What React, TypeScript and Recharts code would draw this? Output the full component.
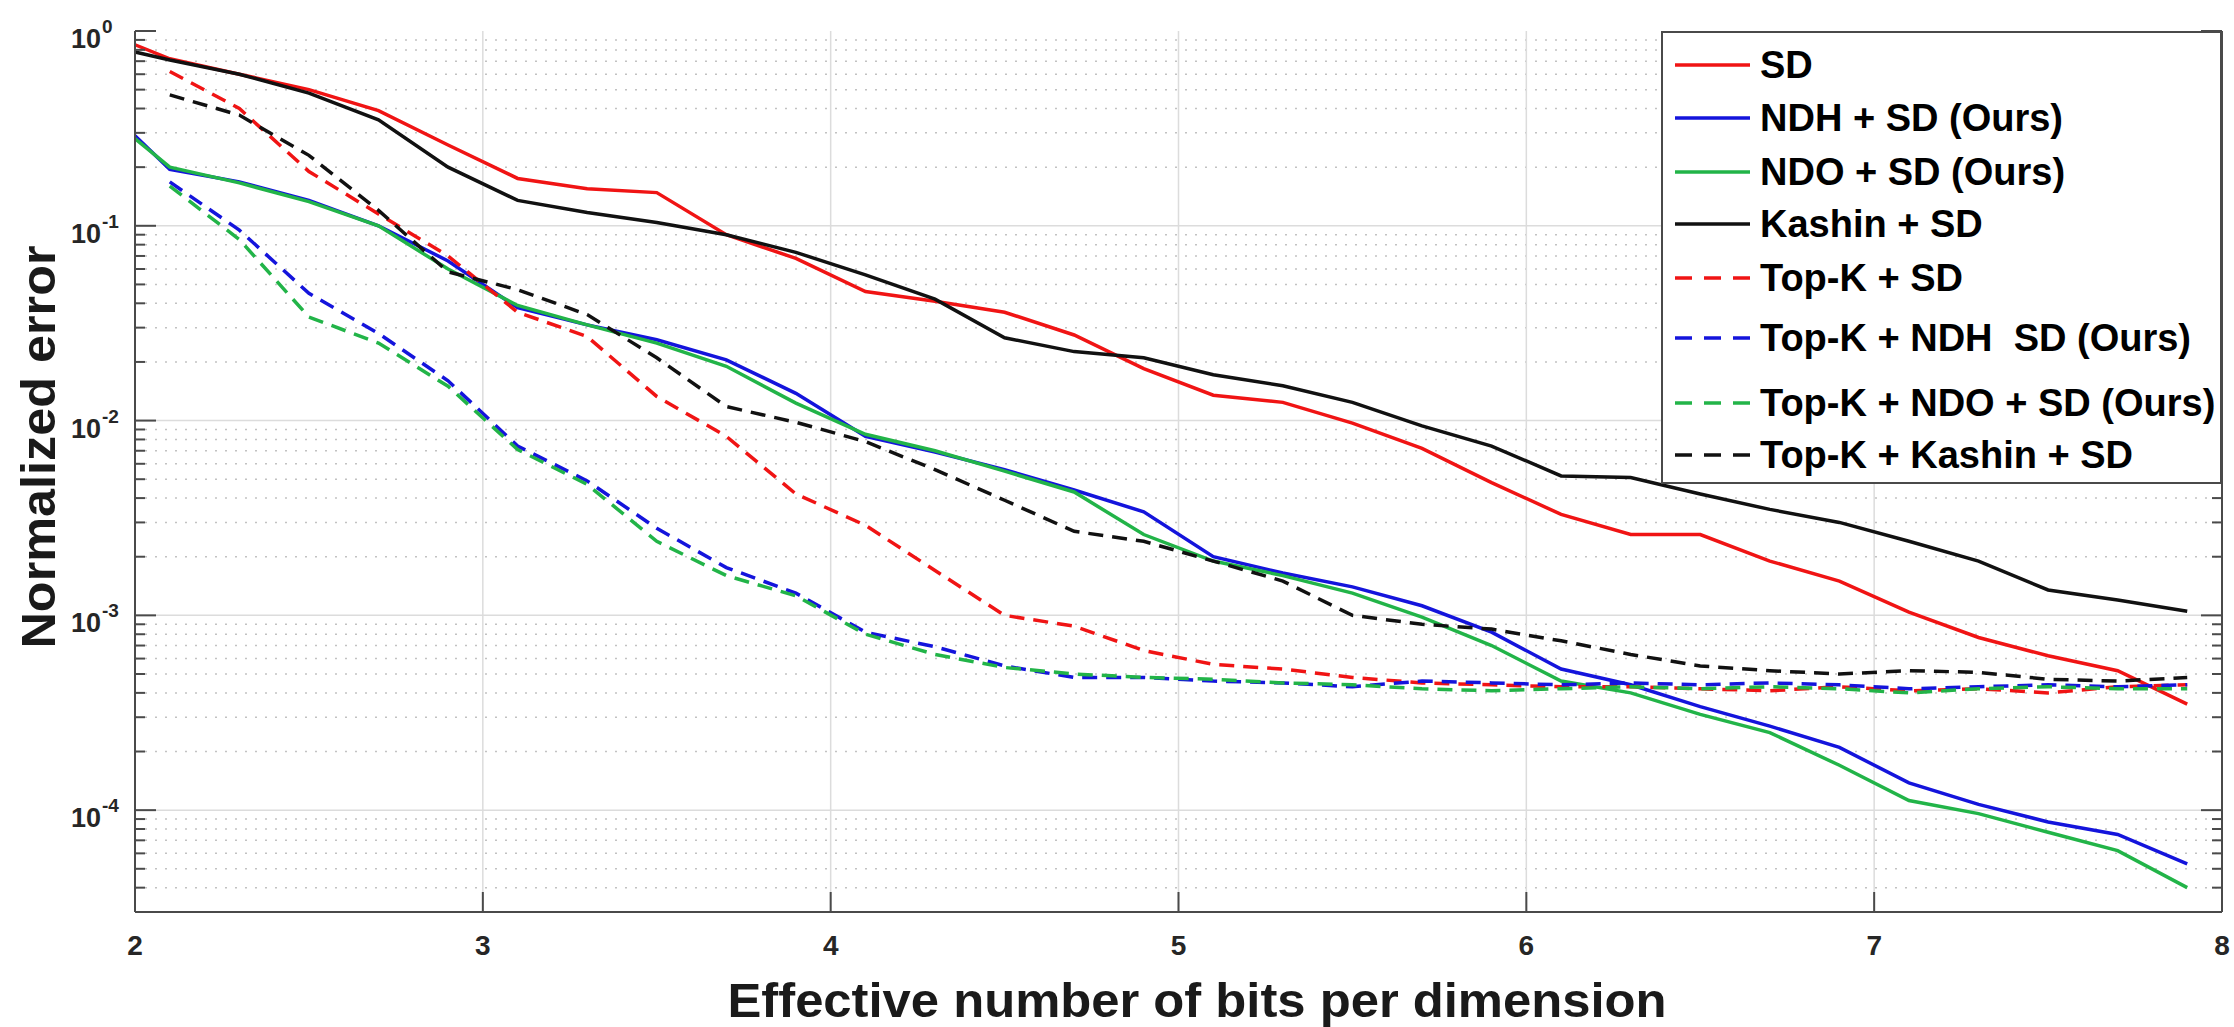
import React from "react";
import { LineChart, Line, XAxis, YAxis, ReferenceLine, Legend } from "recharts";

// effective bits per dimension (x positions of the samples)
const bits = [
  2.0, 2.1, 2.3, 2.5, 2.7, 2.9, 3.1, 3.3, 3.5, 3.7, 3.9, 4.1, 4.3, 4.5, 4.7, 4.9,
  5.1, 5.3, 5.5, 5.7, 5.9, 6.1, 6.3, 6.5, 6.7, 6.9, 7.1, 7.3, 7.5, 7.7, 7.9,
];

const sd = [
  0.85, 0.72, 0.6, 0.5, 0.39, 0.26, 0.175, 0.155, 0.148, 0.09, 0.068, 0.046, 0.041, 0.036, 0.0275, 0.0185,
  0.0135, 0.0124, 0.0097, 0.0072, 0.0048, 0.0033, 0.0026, 0.0026, 0.0019, 0.0015, 0.00104, 0.00077, 0.00062, 0.00052, 0.00035,
];

const ndhSd = [
  0.29, 0.195, 0.168, 0.135, 0.1, 0.066, 0.038, 0.031, 0.026, 0.0205, 0.0138, 0.0083, 0.0069, 0.0056, 0.0044, 0.0034,
  0.002, 0.00165, 0.0014, 0.00112, 0.00082, 0.00053, 0.00044, 0.00034, 0.00027, 0.00021, 0.000138, 0.000107, 0.000087, 0.000075, 0.000053,
];

const ndoSd = [
  0.28, 0.2, 0.166, 0.133, 0.1, 0.06, 0.039, 0.031, 0.025, 0.019, 0.0123, 0.0085, 0.007, 0.0055, 0.0043, 0.0026,
  0.0019, 0.0016, 0.0013, 0.00098, 0.0007, 0.00046, 0.0004, 0.00031, 0.00025, 0.00017, 0.000112, 0.000096, 0.000077, 0.000062, 0.00004,
];

const kashinSd = [
  0.78, 0.71, 0.6, 0.48, 0.35, 0.2, 0.135, 0.117, 0.104, 0.09, 0.073, 0.056, 0.042, 0.0266, 0.0226, 0.021,
  0.0172, 0.0151, 0.0124, 0.0094, 0.0074, 0.0052, 0.0051, 0.0042, 0.0035, 0.003, 0.0024, 0.0019, 0.00135, 0.0012, 0.00105,
];

const topkSd = [
  null, 0.62, 0.4, 0.19, 0.115, 0.07, 0.036, 0.027, 0.0133, 0.0083, 0.0042, 0.0029, 0.0017, 0.001, 0.00088, 0.00066,
  0.00056, 0.00053, 0.00048, 0.00045, 0.00044, 0.00043, 0.00043, 0.00042, 0.00041, 0.00043, 0.00041, 0.00042, 0.0004, 0.00043, 0.00044,
];

const topkNdhSd = [
  null, 0.168, 0.095, 0.045, 0.028, 0.016, 0.0074, 0.0049, 0.0028, 0.00176, 0.0013, 0.00082, 0.00069, 0.00055, 0.00048, 0.00048,
  0.00046, 0.00045, 0.00043, 0.00046, 0.00045, 0.00044, 0.00045, 0.00044, 0.00045, 0.00044, 0.00042, 0.00043, 0.00044, 0.00043, 0.00044,
];

const topkNdoSd = [
  null, 0.16, 0.085, 0.034, 0.025, 0.015, 0.0071, 0.0047, 0.0024, 0.0016, 0.00126, 0.0008, 0.00063, 0.00054, 0.0005, 0.00048,
  0.00047, 0.00045, 0.00044, 0.00042, 0.00041, 0.00042, 0.00043, 0.00042, 0.00043, 0.00042, 0.0004, 0.00042, 0.00043, 0.00042, 0.00042,
];

const topkKashinSd = [
  null, 0.47, 0.37, 0.23, 0.12, 0.058, 0.047, 0.035, 0.021, 0.0118, 0.0098, 0.0078, 0.0056, 0.0039, 0.0027, 0.0024,
  0.0019, 0.0015, 0.001, 0.0009, 0.00085, 0.00074, 0.00063, 0.00055, 0.00052, 0.0005, 0.00052, 0.00051, 0.00047, 0.00046, 0.00048,
];

const xTicks = [2, 3, 4, 5, 6, 7, 8];
const yMajor = [1e-4, 1e-3, 1e-2, 1e-1, 1];
const yMinor = [
  4e-5, 5e-5, 6e-5, 7e-5, 8e-5, 9e-5,
  2e-4, 3e-4, 4e-4, 5e-4, 6e-4, 7e-4, 8e-4, 9e-4,
  2e-3, 3e-3, 4e-3, 5e-3, 6e-3, 7e-3, 8e-3, 9e-3,
  2e-2, 3e-2, 4e-2, 5e-2, 6e-2, 7e-2, 8e-2, 9e-2,
  0.2, 0.3, 0.4, 0.5, 0.6, 0.7, 0.8, 0.9,
];
const yTicks = [...yMajor, ...yMinor].sort((a, b) => a - b);

const RED = "#f01414";
const BLUE = "#1414dc";
const GREEN = "#22b448";
const BLACK = "#111111";

const series = [
  { key: "sd", name: "SD", color: RED, dashed: false, values: sd },
  { key: "ndhSd", name: "NDH + SD (Ours)", color: BLUE, dashed: false, values: ndhSd },
  { key: "ndoSd", name: "NDO + SD (Ours)", color: GREEN, dashed: false, values: ndoSd },
  { key: "kashinSd", name: "Kashin + SD", color: BLACK, dashed: false, values: kashinSd },
  { key: "topkSd", name: "Top-K + SD", color: RED, dashed: true, values: topkSd },
  { key: "topkNdhSd", name: "Top-K + NDH  SD (Ours)", color: BLUE, dashed: true, values: topkNdhSd },
  { key: "topkNdoSd", name: "Top-K + NDO + SD (Ours)", color: GREEN, dashed: true, values: topkNdoSd },
  { key: "topkKashinSd", name: "Top-K + Kashin + SD", color: BLACK, dashed: true, values: topkKashinSd },
];

const data = bits.map((x, i) => {
  const row: Record<string, number | null> = { x };
  series.forEach((s) => {
    row[s.key] = s.values[i];
  });
  return row;
});

const FONT = "'Liberation Sans', Arial, Helvetica, sans-serif";
const AXIS = "#4a4a4a";
const TEXT = "#262626";

const isMajor = (v: number) => Math.abs(Math.log10(v) - Math.round(Math.log10(v))) < 1e-6;

const BottomTick = (props: any) => {
  const { x, y, payload } = props;
  return (
    <g>
      <line x1={x} y1={y} x2={x} y2={y - 20} stroke={AXIS} strokeWidth={2} />
      <text x={x} y={y + 43} textAnchor="middle" fontSize={28} fontWeight="bold" fill={TEXT} fontFamily={FONT}>
        {payload.value}
      </text>
    </g>
  );
};

const TopTick = (props: any) => {
  const { x, y } = props;
  return <line x1={x} y1={y} x2={x} y2={y + 20} stroke={AXIS} strokeWidth={2} />;
};

const LeftTick = (props: any) => {
  const { x, y, payload } = props;
  const major = isMajor(payload.value);
  const exp = Math.round(Math.log10(payload.value));
  return (
    <g>
      <line x1={x} y1={y} x2={x + (major ? 21 : 10)} y2={y} stroke={AXIS} strokeWidth={2} />
      {major && (
        <>
          <text x={x - 34} y={y + 17} textAnchor="end" fontSize={27} fontWeight="bold" fill={TEXT} fontFamily={FONT}>
            10
          </text>
          <text x={x - 33} y={y + 2} textAnchor="start" fontSize={19} fontWeight="bold" fill={TEXT} fontFamily={FONT}>
            {exp}
          </text>
        </>
      )}
    </g>
  );
};

const RightTick = (props: any) => {
  const { x, y, payload } = props;
  const major = isMajor(payload.value);
  return <line x1={x} y1={y} x2={x - (major ? 21 : 10)} y2={y} stroke={AXIS} strokeWidth={2} />;
};

const renderLegend = () => {
  const rowY = [34, 87, 141, 193, 247, 307, 372, 424];
  return (
    <div
      style={{
        width: 561,
        height: 453,
        border: `2px solid ${AXIS}`,
        boxSizing: "border-box",
        background: "#fff",
        position: "relative",
        fontFamily: FONT,
        fontWeight: "bold",
        fontSize: 38,
        color: "#000",
      }}
    >
      {series.map((s, i) => (
        <div
          key={s.key}
          style={{ position: "absolute", left: -2, top: rowY[i] - 27, height: 50, display: "flex", alignItems: "center" }}
        >
          <svg width={99} height={50} style={{ display: "block" }}>
            <line
              x1={14}
              x2={89}
              y1={25}
              y2={25}
              stroke={s.color}
              strokeWidth={3.5}
              strokeDasharray={s.dashed ? "17 12" : undefined}
            />
          </svg>
          <span style={{ whiteSpace: "pre", lineHeight: "50px" }}>{s.name}</span>
        </div>
      ))}
    </div>
  );
};

const XTitle = () => (
  <text x={1197} y={1017} textAnchor="middle" fontSize={48} fontWeight="bold" fill="#1a1a1a" fontFamily={FONT} textLength={939} lengthAdjust="spacingAndGlyphs">
    Effective number of bits per dimension
  </text>
);

const YTitle = () => (
  <text
    x={55}
    y={447}
    transform="rotate(-90, 55, 447)"
    textAnchor="middle"
    fontSize={48}
    fontWeight="bold"
    fill="#1a1a1a"
    fontFamily={FONT}
    textLength={403}
    lengthAdjust="spacingAndGlyphs"
  >
    Normalized error
  </text>
);

export default function App() {
  return (
    <div style={{ position: "absolute", left: 0, top: 0, background: "#fff" }}>
      <LineChart width={2234} height={1027} data={data} margin={{ top: 31, right: 0, bottom: 0, left: 0 }}>
        <XAxis
          xAxisId="b"
          dataKey="x"
          type="number"
          domain={[2, 8]}
          ticks={xTicks}
          interval={0}
          height={115}
          tickLine={false}
          tickSize={0}
          tickMargin={0}
          tick={<BottomTick />}
          axisLine={{ stroke: AXIS, strokeWidth: 2 }}
          label={<XTitle />}
        />
        <XAxis
          xAxisId="t"
          orientation="top"
          dataKey="x"
          type="number"
          domain={[2, 8]}
          ticks={xTicks}
          interval={0}
          height={0}
          tickLine={false}
          tickSize={0}
          tickMargin={0}
          tick={<TopTick />}
          axisLine={{ stroke: AXIS, strokeWidth: 2 }}
        />
        <YAxis
          yAxisId="l"
          type="number"
          scale="log"
          domain={[3e-5, 1]}
          allowDataOverflow
          ticks={yTicks}
          interval={0}
          width={135}
          tickLine={false}
          tickSize={0}
          tickMargin={0}
          tick={<LeftTick />}
          axisLine={{ stroke: AXIS, strokeWidth: 2 }}
          label={<YTitle />}
        />
        <YAxis
          yAxisId="r"
          orientation="right"
          type="number"
          scale="log"
          domain={[3e-5, 1]}
          allowDataOverflow
          ticks={yTicks}
          interval={0}
          width={12}
          tickLine={false}
          tickSize={0}
          tickMargin={0}
          tick={<RightTick />}
          axisLine={{ stroke: AXIS, strokeWidth: 2 }}
        />

        {yMinor.map((v) => (
          <ReferenceLine key={`mn${v}`} xAxisId="b" yAxisId="l" y={v} stroke="#c2c2c2" strokeWidth={1.5} strokeDasharray="2 8" />
        ))}
        {yMajor.slice(0, 4).map((v) => (
          <ReferenceLine key={`mj${v}`} xAxisId="b" yAxisId="l" y={v} stroke="#dcdcdc" strokeWidth={1.5} />
        ))}
        {xTicks.slice(1, 6).map((v) => (
          <ReferenceLine key={`vx${v}`} xAxisId="b" yAxisId="l" x={v} stroke="#dcdcdc" strokeWidth={1.5} />
        ))}

        {series.map((s) => (
          <Line
            key={s.key}
            xAxisId="b"
            yAxisId="l"
            type="linear"
            dataKey={s.key}
            name={s.name}
            stroke={s.color}
            strokeWidth={3.5}
            strokeDasharray={s.dashed ? "15 9" : undefined}
            dot={false}
            activeDot={false}
            isAnimationActive={false}
          />
        ))}

        <Legend
          layout="horizontal"
          verticalAlign="middle"
          align="center"
          content={renderLegend}
          wrapperStyle={{ left: 1661, top: 31, width: 561, height: 453 }}
        />
      </LineChart>
    </div>
  );
}
